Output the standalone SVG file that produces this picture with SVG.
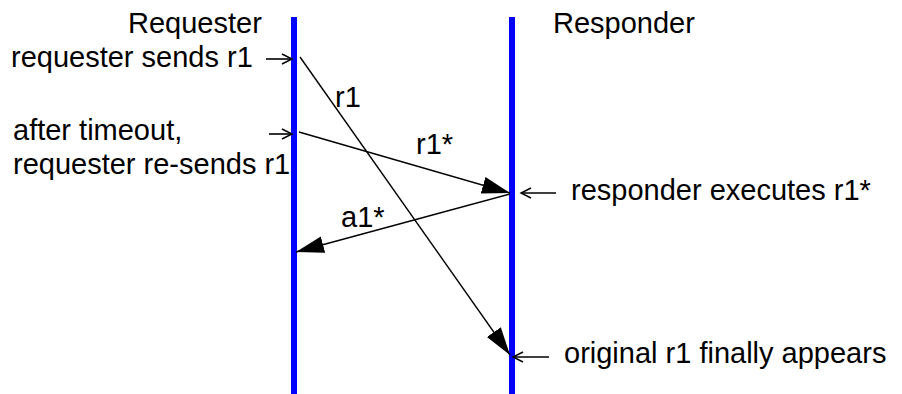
<svg xmlns="http://www.w3.org/2000/svg" width="902" height="394" viewBox="0 0 902 394">
<style>
text{font-family:"Liberation Sans",Arial,sans-serif;font-size:29px;fill:#000}
.life{stroke:#0000ff;stroke-width:6;fill:none}
.msg{stroke:#000;stroke-width:1.4;fill:none}
.ptr{stroke:#000;stroke-width:1.6;fill:none}
</style>
<defs>
<marker id="big" markerUnits="userSpaceOnUse" markerWidth="29" markerHeight="18" refX="28" refY="8.5" orient="auto">
<path d="M0,0 L28,8.5 L0,17 z" fill="#000"/>
</marker>
<marker id="open" markerUnits="userSpaceOnUse" markerWidth="14" markerHeight="14" refX="11" refY="7" orient="auto">
<path d="M1,2 L11,7 L1,12" fill="none" stroke="#000" stroke-width="1.4"/>
</marker>
</defs>
<g id="requester">
<line class="life" x1="294" y1="17" x2="294" y2="394"/>
<text x="128" y="33">Requester</text>
</g>
<g id="responder">
<line class="life" x1="512" y1="17" x2="512" y2="394"/>
<text x="553" y="33">Responder</text>
</g>
<g id="note-sends">
<text x="11" y="67">requester sends r1</text>
</g>
<g id="note-resends">
<text x="13" y="140">after timeout,</text>
<text x="13" y="174">requester re-sends r1</text>
</g>
<g id="note-executes">
<text x="571" y="200">responder executes r1*</text>
</g>
<g id="note-appears">
<text x="564" y="363">original r1 finally appears</text>
</g>
<g id="connectors">
<line class="msg" x1="300" y1="57" x2="510" y2="355" marker-end="url(#big)"/>
<line class="msg" x1="299" y1="132" x2="510" y2="193" marker-end="url(#big)"/>
<line class="msg" x1="510" y1="194" x2="296" y2="252" marker-end="url(#big)"/>
<line class="ptr" x1="266" y1="59" x2="292" y2="59" marker-end="url(#open)"/>
<line class="ptr" x1="269" y1="134" x2="292" y2="134" marker-end="url(#open)"/>
<line class="ptr" x1="556" y1="193" x2="521" y2="193" marker-end="url(#open)"/>
<line class="ptr" x1="549" y1="357" x2="513" y2="357" marker-end="url(#open)"/>
<text x="335" y="107">r1</text>
<text x="416" y="154">r1*</text>
<text x="341" y="227">a1*</text>
</g>
</svg>
